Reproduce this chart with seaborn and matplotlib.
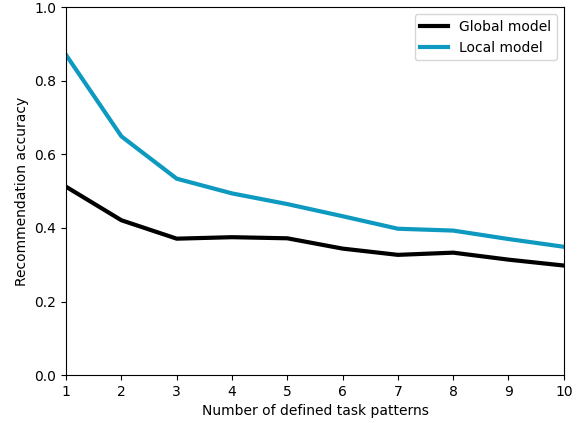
import matplotlib
matplotlib.use("Agg")
import matplotlib.pyplot as plt
import seaborn as sns
import pandas as pd

patterns = [1, 2, 3, 4, 5, 6, 7, 8, 9, 10]
global_model = [0.512, 0.421, 0.371, 0.375, 0.372, 0.344, 0.327, 0.333, 0.314, 0.298]
local_model = [0.870, 0.649, 0.534, 0.494, 0.465, 0.432, 0.398, 0.393, 0.370, 0.349]

df = pd.DataFrame({
    "x": patterns * 2,
    "y": global_model + local_model,
    "model": ["Global model"] * len(patterns) + ["Local model"] * len(patterns),
})

fig, ax = plt.subplots(figsize=(5.8, 4.23), dpi=100)
sns.lineplot(data=df, x="x", y="y", hue="model",
             palette={"Global model": "black", "Local model": "#0e9ac0"},
             linewidth=3, ax=ax)
ax.set_xlim(1, 10)
ax.set_ylim(0, 1.0)
ax.set_xticks(patterns)
ax.set_xlabel("Number of defined task patterns")
ax.set_ylabel("Recommendation accuracy")
ax.legend(loc="upper right", title=None)
fig.subplots_adjust(left=0.114, right=0.972, top=0.983, bottom=0.113)
fig.savefig("out.png")
